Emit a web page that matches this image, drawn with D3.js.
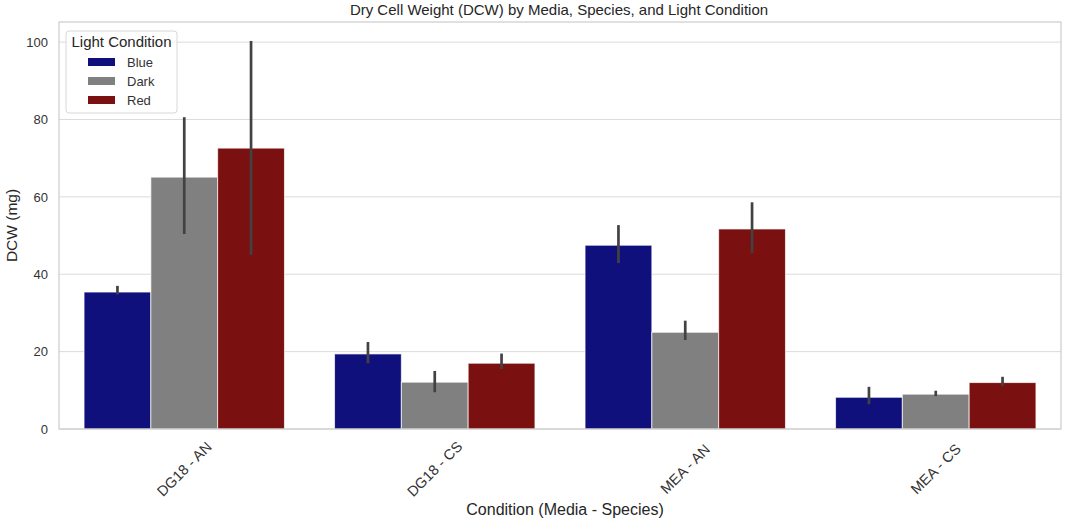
<!DOCTYPE html>
<meta charset="utf-8">
<style>
  body { margin: 0; background: #fff; }
  text { font-family: "Liberation Sans", Arial, sans-serif; fill: #262626; }
  .grid line { stroke: #dcdcdc; stroke-width: 1; }
  .tick text { font-size: 13px; fill: #333; }
</style>
<svg width="1065" height="521"></svg>
<script src="https://cdnjs.cloudflare.com/ajax/libs/d3/7.8.5/d3.min.js"></script>
<script>

var categories = ["DG18 - AN", "DG18 - CS", "MEA - AN", "MEA - CS"],
    lights = ["Blue", "Dark", "Red"],
    colors = ["#10107c", "#808080", "#7a1010"],
    yTicks = [0, 20, 40, 60, 80, 100];

// mean, ci low, ci high per category
var blueMean = [35.4, 19.4, 47.5, 8.2],
    blueLo   = [34.8, 17.0, 42.9, 6.4],
    blueHi   = [37.0, 22.5, 52.7, 10.9],
    darkMean = [65.1, 12.1, 25.0, 9.0],
    darkLo   = [50.4, 9.5, 23.0, 8.5],
    darkHi   = [80.6, 15.0, 28.0, 9.9],
    redMean  = [72.6, 17.0, 51.7, 12.0],
    redLo    = [45.0, 15.5, 45.5, 11.1],
    redHi    = [100.3, 19.5, 58.6, 13.5];

var series = [
  {light: "Blue", mean: blueMean, lo: blueLo, hi: blueHi},
  {light: "Dark", mean: darkMean, lo: darkLo, hi: darkHi},
  {light: "Red",  mean: redMean,  lo: redLo,  hi: redHi}
];

var svg = d3.select("svg"),
    plotLeft = 59, plotRight = 1061, plotTop = 22, plotBottom = 429;

var x = d3.scaleBand().domain(categories).range([plotLeft, plotRight]).padding(0);
var x1 = d3.scaleBand().domain(lights).range([0, x.bandwidth() * 0.8]);
var y = d3.scaleLinear().domain([0, 105.2]).range([plotBottom, plotTop]);
var color = d3.scaleOrdinal().domain(lights).range(colors);

// grid
svg.append("g")
    .attr("class", "grid")
  .selectAll("line")
  .data(yTicks)
  .join("line")
    .attr("x1", plotLeft).attr("x2", plotRight)
    .attr("y1", function(d) { return y(d); })
    .attr("y2", function(d) { return y(d); });

// bars
var rows = [];
series.forEach(function(s) {
  categories.forEach(function(c, i) {
    rows.push({cat: c, light: s.light, mean: s.mean[i], lo: s.lo[i], hi: s.hi[i]});
  });
});

var off = x.bandwidth() * 0.1;

svg.append("g")
  .selectAll("rect")
  .data(rows)
  .join("rect")
    .attr("x", function(d) { return x(d.cat) + off + x1(d.light); })
    .attr("width", x1.bandwidth())
    .attr("y", function(d) { return y(d.mean); })
    .attr("height", function(d) { return y(0) - y(d.mean); })
    .attr("fill", function(d) { return color(d.light); })
    .attr("stroke", "#ffffff")
    .attr("stroke-opacity", 0.7)
    .attr("stroke-width", 1);

// error bars
svg.append("g")
  .selectAll("line")
  .data(rows)
  .join("line")
    .attr("x1", function(d) { return x(d.cat) + off + x1(d.light) + x1.bandwidth() / 2; })
    .attr("x2", function(d) { return x(d.cat) + off + x1(d.light) + x1.bandwidth() / 2; })
    .attr("y1", function(d) { return y(d.lo); })
    .attr("y2", function(d) { return y(d.hi); })
    .attr("stroke", "#424242")
    .attr("stroke-width", 2.7);

// frame
svg.append("rect")
    .attr("x", plotLeft).attr("y", plotTop)
    .attr("width", plotRight - plotLeft).attr("height", plotBottom - plotTop)
    .attr("fill", "none")
    .attr("stroke", "#cccccc")
    .attr("stroke-width", 1.2);

// y axis
var yAxis = svg.append("g")
    .attr("transform", "translate(" + plotLeft + ",0)")
    .call(d3.axisLeft(y).tickValues(yTicks).tickSize(0).tickPadding(11));
yAxis.select(".domain").remove();

// x axis
var xAxis = svg.append("g")
    .attr("transform", "translate(0," + plotBottom + ")")
    .call(d3.axisBottom(x).tickSize(0));
xAxis.select(".domain").remove();
xAxis.selectAll(".tick text")
    .attr("y", 0).attr("dy", null)
    .style("font-size", "14.5px")
    .attr("text-anchor", "middle")
    .attr("dominant-baseline", "central")
    .attr("transform", "translate(0,40) rotate(-45)");

// titles
svg.append("text")
    .attr("x", 559).attr("y", 15)
    .attr("text-anchor", "middle")
    .style("font-size", "15px")
    .text("Dry Cell Weight (DCW) by Media, Species, and Light Condition");

svg.append("text")
    .attr("x", 565).attr("y", 515)
    .attr("text-anchor", "middle")
    .style("font-size", "16px")
    .text("Condition (Media - Species)");

svg.append("text")
    .attr("transform", "translate(17," + ((plotTop + plotBottom) / 2) + ") rotate(-90)")
    .attr("text-anchor", "middle")
    .style("font-size", "15.5px")
    .text("DCW (mg)");

// legend
var lg = svg.append("g").attr("transform", "translate(66,31)");
lg.append("rect")
    .attr("width", 111).attr("height", 82)
    .attr("rx", 3)
    .attr("fill", "#ffffff").attr("fill-opacity", 0.85)
    .attr("stroke", "#d8d8d8");
lg.append("text")
    .attr("x", 55.5).attr("y", 16)
    .attr("text-anchor", "middle")
    .style("font-size", "15px")
    .text("Light Condition");
var item = lg.selectAll(".item")
  .data(lights)
  .join("g")
    .attr("class", "item")
    .attr("transform", function(d, i) { return "translate(22," + (31 + i * 19) + ")"; });
item.append("rect")
    .attr("width", 27).attr("height", 8).attr("y", -4)
    .attr("fill", function(d) { return color(d); });
item.append("text")
    .attr("x", 39).attr("dy", "0.35em")
    .style("font-size", "13px")
    .style("fill", "#333")
    .text(function(d) { return d; });

</script>
